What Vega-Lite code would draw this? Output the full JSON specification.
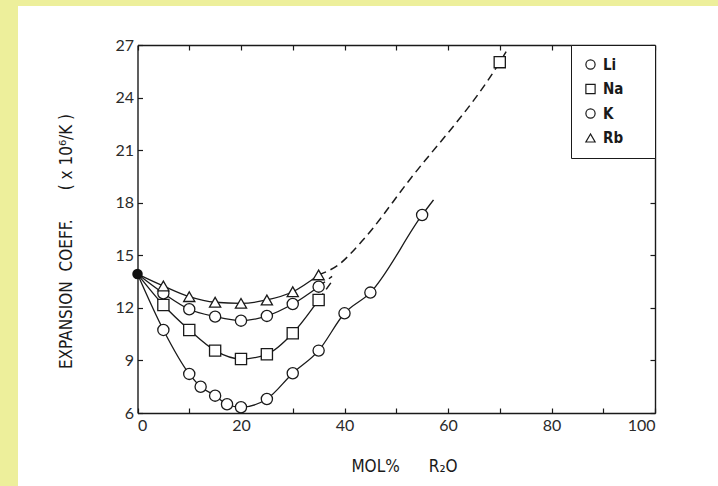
{
  "$schema": "https://vega.github.io/schema/vega-lite/v6.json",
  "width": 700,
  "height": 480,
  "autosize": {"type": "none"},
  "padding": {"left": 18, "top": 6, "right": 0, "bottom": 0},
  "background": "#EDEF9B",
  "view": {"fill": "white", "stroke": null},
  "config": {
    "axis": {
      "grid": false,
      "domainColor": "#1a1a1a",
      "domainWidth": 1.4,
      "tickColor": "#1a1a1a",
      "tickWidth": 1.2,
      "tickSize": -5,
      "labelFont": "Lato",
      "labelFontSize": 16,
      "labelColor": "#2a2a2a",
      "titleFont": "DejaVu Sans Condensed, Roboto, sans-serif",
      "titleFontWeight": "normal",
      "titleFontSize": 17,
      "titleColor": "#1a1a1a"
    }
  },
  "datasets": {
    "curves": [
      {"series": "Li", "mol": 0, "coeff": 13.93},
      {"series": "Li", "mol": 5, "coeff": 10.74},
      {"series": "Li", "mol": 10, "coeff": 8.23},
      {"series": "Li", "mol": 12.2, "coeff": 7.5},
      {"series": "Li", "mol": 15, "coeff": 6.99},
      {"series": "Li", "mol": 17.3, "coeff": 6.5},
      {"series": "Li", "mol": 20, "coeff": 6.33},
      {"series": "Li", "mol": 25, "coeff": 6.8},
      {"series": "Li", "mol": 30, "coeff": 8.27},
      {"series": "Li", "mol": 35, "coeff": 9.56},
      {"series": "Li", "mol": 40, "coeff": 11.69},
      {"series": "Li", "mol": 45, "coeff": 12.87},
      {"series": "Li", "mol": 55, "coeff": 17.3},
      {"series": "Li", "mol": 57.2, "coeff": 18.16},
      {"series": "Na", "mol": 0, "coeff": 13.93},
      {"series": "Na", "mol": 5, "coeff": 12.16},
      {"series": "Na", "mol": 10, "coeff": 10.74},
      {"series": "Na", "mol": 15, "coeff": 9.56},
      {"series": "Na", "mol": 20, "coeff": 9.08},
      {"series": "Na", "mol": 25, "coeff": 9.35},
      {"series": "Na", "mol": 30, "coeff": 10.55},
      {"series": "Na", "mol": 35, "coeff": 12.45},
      {"series": "K", "mol": 0, "coeff": 13.93},
      {"series": "K", "mol": 5, "coeff": 12.83},
      {"series": "K", "mol": 10, "coeff": 11.92},
      {"series": "K", "mol": 15, "coeff": 11.5},
      {"series": "K", "mol": 20, "coeff": 11.27},
      {"series": "K", "mol": 25, "coeff": 11.54},
      {"series": "K", "mol": 30, "coeff": 12.22},
      {"series": "K", "mol": 35, "coeff": 13.21},
      {"series": "Rb", "mol": 0, "coeff": 13.93},
      {"series": "Rb", "mol": 5, "coeff": 13.25},
      {"series": "Rb", "mol": 10, "coeff": 12.64},
      {"series": "Rb", "mol": 15, "coeff": 12.32},
      {"series": "Rb", "mol": 20, "coeff": 12.26},
      {"series": "Rb", "mol": 25, "coeff": 12.45},
      {"series": "Rb", "mol": 30, "coeff": 12.92},
      {"series": "Rb", "mol": 35, "coeff": 13.88}
    ],
    "extrapolated": [
      {"series": "Rb", "mol": 35, "coeff": 13.88},
      {"series": "Rb", "mol": 38.8, "coeff": 14.45},
      {"series": "Rb", "mol": 43.3, "coeff": 15.78},
      {"series": "Rb", "mol": 52.3, "coeff": 19.2},
      {"series": "Rb", "mol": 70, "coeff": 26.02},
      {"series": "Rb", "mol": 71.65, "coeff": 26.82},
      {"series": "K", "mol": 35, "coeff": 13.21},
      {"series": "K", "mol": 37.6, "coeff": 13.8},
      {"series": "Na", "mol": 35, "coeff": 12.45},
      {"series": "Na", "mol": 37.9, "coeff": 13.65}
    ],
    "measured": [
      {"series": "Li", "mol": 5, "coeff": 10.74},
      {"series": "Li", "mol": 10, "coeff": 8.23},
      {"series": "Li", "mol": 12.2, "coeff": 7.5},
      {"series": "Li", "mol": 15, "coeff": 6.99},
      {"series": "Li", "mol": 17.3, "coeff": 6.5},
      {"series": "Li", "mol": 20, "coeff": 6.33},
      {"series": "Li", "mol": 25, "coeff": 6.8},
      {"series": "Li", "mol": 30, "coeff": 8.27},
      {"series": "Li", "mol": 35, "coeff": 9.56},
      {"series": "Li", "mol": 40, "coeff": 11.69},
      {"series": "Li", "mol": 45, "coeff": 12.87},
      {"series": "Li", "mol": 55, "coeff": 17.3},
      {"series": "Na", "mol": 5, "coeff": 12.16},
      {"series": "Na", "mol": 10, "coeff": 10.74},
      {"series": "Na", "mol": 15, "coeff": 9.56},
      {"series": "Na", "mol": 20, "coeff": 9.08},
      {"series": "Na", "mol": 25, "coeff": 9.35},
      {"series": "Na", "mol": 30, "coeff": 10.55},
      {"series": "Na", "mol": 35, "coeff": 12.45},
      {"series": "Na", "mol": 70, "coeff": 26.02},
      {"series": "K", "mol": 5, "coeff": 12.83},
      {"series": "K", "mol": 10, "coeff": 11.92},
      {"series": "K", "mol": 15, "coeff": 11.5},
      {"series": "K", "mol": 20, "coeff": 11.27},
      {"series": "K", "mol": 25, "coeff": 11.54},
      {"series": "K", "mol": 30, "coeff": 12.22},
      {"series": "K", "mol": 35, "coeff": 13.21},
      {"series": "Rb", "mol": 5, "coeff": 13.25},
      {"series": "Rb", "mol": 10, "coeff": 12.64},
      {"series": "Rb", "mol": 15, "coeff": 12.32},
      {"series": "Rb", "mol": 20, "coeff": 12.26},
      {"series": "Rb", "mol": 25, "coeff": 12.45},
      {"series": "Rb", "mol": 30, "coeff": 12.92},
      {"series": "Rb", "mol": 35, "coeff": 13.88}
    ],
    "start": [
      {"mol": 0, "coeff": 13.93}
    ]
  },
  "layer": [
    {
      "data": {"name": "curves"},
      "mark": {"type": "line", "interpolate": "monotone", "color": "#1a1a1a", "strokeWidth": 1.3},
      "encoding": {
        "x": {
          "field": "mol", "type": "quantitative",
          "scale": {"domain": [0, 100], "range": [119.5, 637], "nice": false, "zero": false},
          "axis": {
            "orient": "bottom", "offset": -73,
            "values": [0, 10, 20, 30, 40, 50, 60, 70, 80, 90, 100],
            "labelExpr": "datum.value % 20 === 0 ? datum.label : ''",
            "labelPadding": 9,
            "title": "MOL%\u00a0\u00a0\u00a0\u00a0\u00a0\u00a0R\u2082O",
            "titleX": 386, "titleY": 53, "titleBaseline": "middle", "titleAlign": "center"
          }
        },
        "y": {
          "field": "coeff", "type": "quantitative",
          "scale": {"domain": [6, 27], "range": [407, 39], "nice": false, "zero": false},
          "axis": {
            "orient": "left", "offset": -119.5,
            "values": [6, 9, 12, 15, 18, 21, 24, 27],
            "labelPadding": 9,
            "title": "EXPANSION\u00a0\u00a0COEFF.\u00a0\u00a0\u00a0\u00a0\u00a0\u00a0(\u00a0x\u00a010\u2076/K\u00a0)",
            "titleX": -71.5, "titleY": 235, "titleBaseline": "middle", "titleAlign": "center", "titleAngle": -90
          }
        },
        "detail": {"field": "series", "type": "nominal"}
      }
    },
    {
      "data": {"name": "extrapolated"},
      "mark": {"type": "line", "interpolate": "monotone", "color": "#1a1a1a", "strokeWidth": 1.5, "strokeDash": [8, 5]},
      "encoding": {
        "x": {"field": "mol", "type": "quantitative", "scale": {"domain": [0, 100], "range": [119.5, 637], "nice": false, "zero": false}, "axis": null},
        "y": {"field": "coeff", "type": "quantitative", "scale": {"domain": [6, 27], "range": [407, 39], "nice": false, "zero": false}, "axis": null},
        "detail": {"field": "series", "type": "nominal"}
      }
    },
    {
      "data": {"name": "measured"},
      "mark": {"type": "point", "filled": false, "fill": "white", "strokeWidth": 1.3, "opacity": 1, "size": 125},
      "encoding": {
        "x": {"field": "mol", "type": "quantitative", "scale": {"domain": [0, 100], "range": [119.5, 637], "nice": false, "zero": false}, "axis": null},
        "y": {"field": "coeff", "type": "quantitative", "scale": {"domain": [6, 27], "range": [407, 39], "nice": false, "zero": false}, "axis": null},
        "shape": {
          "field": "series", "type": "nominal",
          "scale": {"domain": ["Li", "Na", "K", "Rb"], "range": ["circle", "square", "circle", "triangle-up"]},
          "legend": {
            "orient": "none", "legendX": 553, "legendY": 39,
            "title": null,
            "strokeColor": "#1a1a1a",
            "fillColor": "white",
            "padding": 12,
            "rowPadding": 8.5,
            "symbolSize": 85,
            "symbolStrokeWidth": 1.2,
            "symbolFillColor": "white",
            "labelFont": "DejaVu Sans Condensed, Roboto, sans-serif",
            "labelFontSize": 15,
            "labelFontWeight": "bold",
            "labelColor": "#1a1a1a",
            "labelOffset": 5,
            "labelExpr": "datum.label + '\u00a0\u00a0\u00a0\u00a0\u200b'"
          }
        },
        "stroke": {
          "field": "series", "type": "nominal",
          "scale": {"domain": ["Li", "Na", "K", "Rb"], "range": ["#1a1a1a", "#1a1a1a", "#1a1a1a", "#1a1a1a"]},
          "legend": {
            "orient": "none", "legendX": 553, "legendY": 39,
            "title": null,
            "strokeColor": "#1a1a1a",
            "fillColor": "white",
            "padding": 12,
            "rowPadding": 8.5,
            "symbolSize": 85,
            "symbolStrokeWidth": 1.2,
            "symbolFillColor": "white",
            "labelFont": "DejaVu Sans Condensed, Roboto, sans-serif",
            "labelFontSize": 15,
            "labelFontWeight": "bold",
            "labelColor": "#1a1a1a",
            "labelOffset": 5,
            "labelExpr": "datum.label + '\u00a0\u00a0\u00a0\u00a0\u200b'"
          }
        }
      }
    },
    {
      "data": {"name": "start"},
      "mark": {"type": "point", "filled": true, "color": "#111111", "opacity": 1, "size": 110, "shape": "circle"},
      "encoding": {
        "x": {"field": "mol", "type": "quantitative", "scale": {"domain": [0, 100], "range": [119.5, 637], "nice": false, "zero": false}, "axis": null},
        "y": {"field": "coeff", "type": "quantitative", "scale": {"domain": [6, 27], "range": [407, 39], "nice": false, "zero": false}, "axis": null}
      }
    },
    {
      "data": {"name": "start"},
      "mark": {"type": "point", "opacity": 0},
      "encoding": {
        "x": {
          "field": "mol", "type": "quantitative",
          "scale": {"domain": [0, 100], "range": [119.5, 637], "nice": false, "zero": false},
          "axis": {"orient": "top", "offset": -39, "values": [0, 10, 20, 30, 40, 50, 60, 70, 80, 90, 100], "labels": false, "title": null}
        },
        "y": {
          "field": "coeff", "type": "quantitative",
          "scale": {"domain": [6, 27], "range": [407, 39], "nice": false, "zero": false},
          "axis": {"orient": "right", "offset": -63, "values": [6, 9, 12, 15, 18, 21, 24, 27], "labels": false, "title": null}
        }
      }
    }
  ],
  "resolve": {"axis": {"x": "independent", "y": "independent"}}
}
